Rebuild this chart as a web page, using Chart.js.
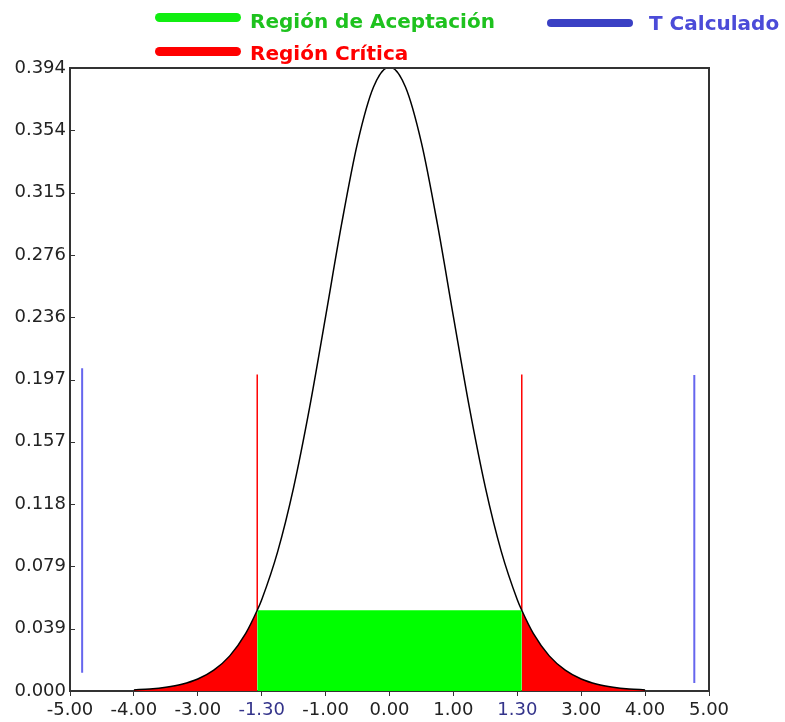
<!DOCTYPE html>
<html>
<head>
<meta charset="utf-8">
<script src="https://cdn.jsdelivr.net/npm/chart.js@4"></script>
<style>
  body { margin: 0; background: #fff; }
  #wrap { position: relative; width: 785px; height: 722px; }
  .sw { position: absolute; border-radius: 5px; }
  .lg { position: absolute; font: bold 20px "DejaVu Sans"; line-height: 20px; white-space: nowrap; }
</style>
</head>
<body>
<div id="wrap">
  <canvas id="c"></canvas>
  <div class="sw" style="left:155px;top:13px;width:86px;height:9px;background:#11ee11"></div>
  <div class="lg" style="left:250px;top:11px;color:#1ec21e">Región de Aceptación</div>
  <div class="sw" style="left:155px;top:47px;width:86px;height:9px;background:#ff0000"></div>
  <div class="lg" style="left:250px;top:43px;color:#ff0000">Región Crítica</div>
  <div class="sw" style="left:547px;top:19px;width:86px;height:8px;background:#3a40c4"></div>
  <div class="lg" style="left:649px;top:13px;color:#4b4bd8">T Calculado</div>
</div>
<script>
// curve (density vs t)
var curveX = [-4, -3.75, -3.5, -3.25, -3, -2.75, -2.5, -2.25, -2.07, -2, -1.75, -1.5, -1.25, -1, -0.75, -0.5, -0.25, 0,
              0.25, 0.5, 0.75, 1, 1.25, 1.5, 1.75, 2, 2.07, 2.25, 2.5, 2.75, 3, 3.25, 3.5, 3.75, 4];
var curveY = [0.0007, 0.0013, 0.0024, 0.0043, 0.0076, 0.0132, 0.0222, 0.0364, 0.0510, 0.0577, 0.0881, 0.1287, 0.1792, 0.2366, 0.2950, 0.3464, 0.3817, 0.3944,
              0.3817, 0.3464, 0.2950, 0.2366, 0.1792, 0.1287, 0.0881, 0.0577, 0.0510, 0.0364, 0.0222, 0.0132, 0.0076, 0.0043, 0.0024, 0.0013, 0.0007];

var critical = 2.07;          // region limits
var acceptHeight = 0.051;     // top of green band
var criticalLineTop = 0.2;

var tCalcX = [-4.81, 4.77];   // T Calculado lines
var tCalcBottom = [0.0116, 0.0051];
var tCalcTop = [0.204, 0.1997];

var yMax = 0.3937;
var yTickLabels = ['0.000', '0.039', '0.079', '0.118', '0.157', '0.197', '0.236', '0.276', '0.315', '0.354', '0.394'];
var xTickValues = [-5, -4, -3, -2, -1, 0, 1, 2, 3, 4, 5];
var xTickLabels = ['-5.00', '-4.00', '-3.00', '-1.30', '-1.00', '0.00', '1.00', '1.30', '3.00', '4.00', '5.00'];

function pts(xs, ys) {
    return xs.map(function (x, i) { return { x: x, y: ys[i] }; });
}

var curve = pts(curveX, curveY);
var leftTail = curve.filter(function (p) { return p.x <= -critical; });
var rightTail = curve.filter(function (p) { return p.x >= critical; });

function segment(color, width, data, order) {
    return { data: data, borderColor: color, borderWidth: width, pointRadius: 0, fill: false, order: order };
}

// frame on top/right + inward y ticks
var framePlugin = {
    id: 'frame',
    afterDraw: function (chart) {
        var ctx = chart.ctx, a = chart.chartArea, ys = chart.scales.y;
        ctx.save();
        ctx.strokeStyle = '#333';
        ctx.lineWidth = 2;
        ctx.beginPath();
        ctx.moveTo(a.left, a.top);
        ctx.lineTo(a.right, a.top);
        ctx.lineTo(a.right, a.bottom);
        ctx.stroke();
        ctx.lineWidth = 1;
        ys.ticks.forEach(function (t) {
            var py = Math.round(ys.getPixelForValue(t.value)) + 0.5;
            ctx.beginPath();
            ctx.moveTo(a.left, py);
            ctx.lineTo(a.left + 5, py);
            ctx.stroke();
        });
        ctx.restore();
    }
};

new Chart(document.getElementById('c'), {
    type: 'line',
    data: {
        datasets: [
            { data: curve, borderColor: '#000', borderWidth: 1.5, pointRadius: 0, fill: false, cubicInterpolationMode: 'monotone', order: 0 },
            segment('#ff0000', 1.5, [{ x: -critical, y: acceptHeight }, { x: -critical, y: criticalLineTop }], 1),
            segment('#ff0000', 1.5, [{ x: critical, y: acceptHeight }, { x: critical, y: criticalLineTop }], 1),
            segment('#6666ee', 2, [{ x: tCalcX[0], y: tCalcBottom[0] }, { x: tCalcX[0], y: tCalcTop[0] }], 1),
            segment('#6666ee', 2, [{ x: tCalcX[1], y: tCalcBottom[1] }, { x: tCalcX[1], y: tCalcTop[1] }], 1),
            { data: [{ x: -critical, y: acceptHeight }, { x: critical, y: acceptHeight }], borderWidth: 0, pointRadius: 0,
              backgroundColor: '#00ff00', fill: 'origin', order: 3 },
            { data: leftTail, borderWidth: 0, pointRadius: 0, backgroundColor: '#ff0000', fill: 'origin', cubicInterpolationMode: 'monotone', order: 3 },
            { data: rightTail, borderWidth: 0, pointRadius: 0, backgroundColor: '#ff0000', fill: 'origin', cubicInterpolationMode: 'monotone', order: 3 }
        ]
    },
    options: {
        responsive: true,
        maintainAspectRatio: false,
        animation: false,
        layout: { padding: { top: 68, right: 76, left: 0, bottom: 0 } },
        plugins: { legend: { display: false }, tooltip: { enabled: false } },
        scales: {
            x: {
                type: 'linear', min: -5, max: 5,
                afterBuildTicks: function (s) { s.ticks = xTickValues.map(function (v) { return { value: v }; }); },
                afterFit: function (s) { s.height = 31; },
                grid: { drawOnChartArea: false, tickLength: 5, color: '#333' },
                border: { color: '#333', width: 2 },
                ticks: {
                    padding: 4,
                    font: { family: 'DejaVu Sans', size: 18 },
                    color: function (c) { return (c.index === 3 || c.index === 7) ? '#33338a' : '#222'; },
                    callback: function (v, i) { return xTickLabels[i]; }
                }
            },
            y: {
                min: 0, max: yMax,
                afterBuildTicks: function (s) { s.ticks = yTickLabels.map(function (l, i) { return { value: yMax * i / 10 }; }); },
                afterFit: function (s) { s.width = 70; },
                grid: { drawOnChartArea: false, drawTicks: false },
                border: { color: '#333', width: 2 },
                ticks: {
                    padding: 4,
                    font: { family: 'DejaVu Sans', size: 18 },
                    color: '#222',
                    callback: function (v, i) { return yTickLabels[i]; }
                }
            }
        }
    },
    plugins: [framePlugin]
});
</script>
</body>
</html>
